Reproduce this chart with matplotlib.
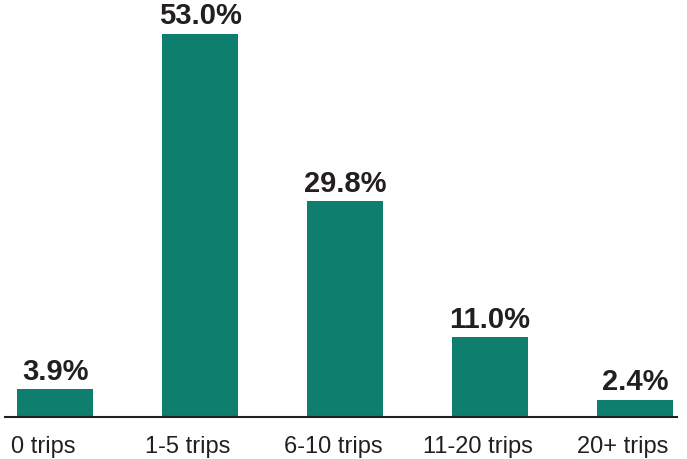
import matplotlib
matplotlib.use('Agg')
import matplotlib.pyplot as plt
import matplotlib.transforms as mtransforms

plt.rcParams['font.family'] = ['Liberation Sans', 'DejaVu Sans']

categories = ['0 trips', '1-5 trips', '6-10 trips', '11-20 trips', '20+ trips']
values = [3.9, 53.0, 29.8, 11.0, 2.4]
labels = ['3.9%', '53.0%', '29.8%', '11.0%', '2.4%']

fig = plt.figure(figsize=(6.87, 4.60), dpi=100)
ax = fig.add_axes([5 / 687, 42 / 460, 672 / 687, 413 / 460])

x = range(len(categories))
bars = ax.bar(x, values, width=0.52, color='#0E7F6E')
for b, lab in zip(bars, labels):
    ax.annotate(lab, (b.get_x() + b.get_width() / 2, b.get_height()),
                xytext=(0, 3), textcoords='offset points',
                ha='center', va='bottom', fontsize=21, fontweight='bold',
                color='#231F20')

ax.set_xlim(-0.345, 4.29)
ax.set_ylim(0, 57.1)
ax.set_xticks(list(x))
ax.set_xticklabels(categories, fontsize=17, color='#231F20')
ax.tick_params(axis='x', length=0, pad=13)
# labels in the original sit a little left of the bar centres
shift = mtransforms.ScaledTranslation(-12 / 100, 0, fig.dpi_scale_trans)
for t in ax.get_xticklabels():
    t.set_transform(t.get_transform() + shift)
ax.set_yticks([])
for s in ['top', 'right', 'left']:
    ax.spines[s].set_visible(False)
ax.spines['bottom'].set_linewidth(1.5)
ax.spines['bottom'].set_color('#231F20')

fig.savefig('out.png', dpi=100)
